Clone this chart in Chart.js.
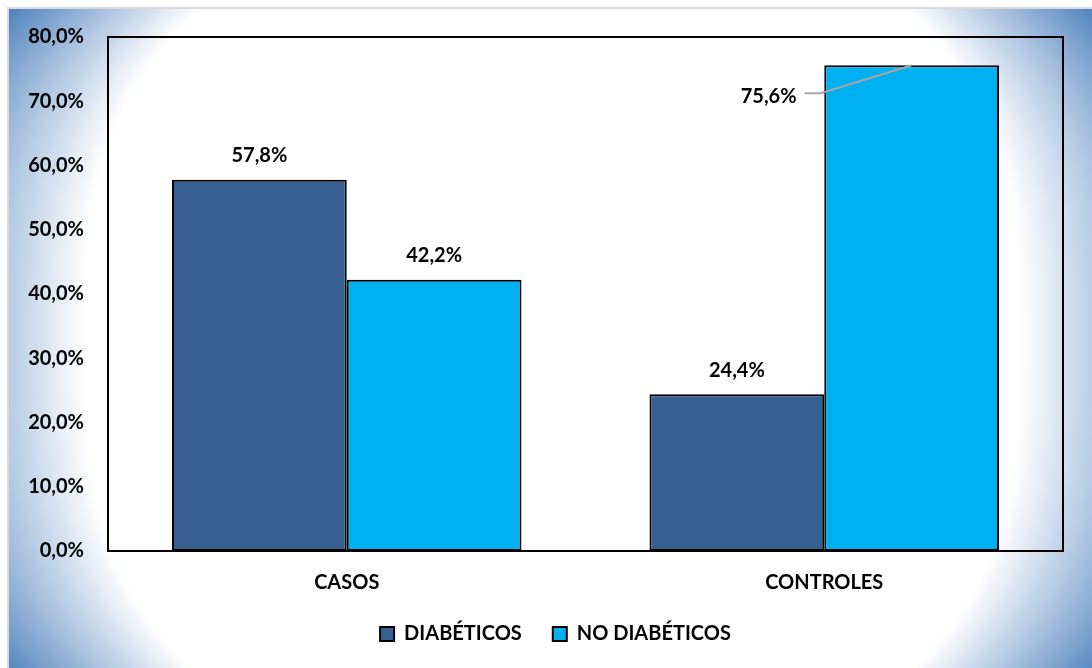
<!DOCTYPE html>
<html>
<head>
<meta charset="utf-8">
<script src="https://cdn.jsdelivr.net/npm/chart.js@4.4.0/dist/chart.umd.min.js"></script>
<style>
  html, body { margin: 0; padding: 0; background: #fff; overflow: hidden; }
  #wrap { position: relative; width: 1092px; height: 668px; }
</style>
</head>
<body>
<div id="wrap"><canvas id="chart"></canvas></div>
<script>
// data
const categories = ["CASOS", "CONTROLES"];
const seriesNames = ["DIABÉTICOS", "NO DIABÉTICOS"];
const diabeticos = [57.8, 24.4];
const noDiabeticos = [42.2, 75.6];
const yTicks = [0, 10, 20, 30, 40, 50, 60, 70, 80];

const FONT = "Lato, 'Open Sans', sans-serif";
const FONT_SIZE = 20;
const fmt = v => v.toFixed(1).replace(".", ",") + "%";

// the 75,6% label sits off to the left of its bar with a leader line
const labelShift = { "1-1": { dx: -143, dy: 31 } };

// blue-to-white panel behind everything, cached once
let bgCache = null;
function buildBackground(w, h) {
  const c = document.createElement("canvas");
  c.width = w; c.height = h;
  const g = c.getContext("2d");
  g.fillStyle = "#fff";
  g.fillRect(0, 0, w, h);
  g.fillStyle = "#d9d9d9";
  g.fillRect(7, 7, w - 7, h - 7);
  const x0 = 9, y0 = 9, x1 = 1095, y1 = 676;
  const cx = (x0 + x1) / 2, cy = (y0 + y1) / 2;
  const hw = (x1 - x0) / 2, hh = (y1 - y0) / 2;
  const img = g.getImageData(x0, y0, w - x0, h - y0);
  const d = img.data;
  const blue = [79, 129, 189];
  for (let y = y0; y < h; y++) {
    const ny = Math.abs(y - cy) / hh;
    for (let x = x0; x < w; x++) {
      const nx = Math.abs(x - cx) / hw;
      let t = 2.86 * (nx - 0.86) + 0.6 * ny * ny * ny;
      t = Math.max(0, Math.min(1, t));
      const i = ((y - y0) * (w - x0) + (x - x0)) * 4;
      d[i] = 255 + (blue[0] - 255) * t;
      d[i + 1] = 255 + (blue[1] - 255) * t;
      d[i + 2] = 255 + (blue[2] - 255) * t;
      d[i + 3] = 255;
    }
  }
  g.putImageData(img, x0, y0);
  return c;
}

const backgroundPlugin = {
  id: "panelBackground",
  beforeDraw(chart) {
    if (!bgCache) bgCache = buildBackground(chart.width, chart.height);
    chart.ctx.drawImage(bgCache, 0, 0);
  }
};

// legend sits a little right of the full-width centre
const legendNudge = {
  id: "legendNudge",
  afterLayout(chart) {
    if (!chart.legend) return;
    chart.legend.left += 24;
    chart.legend.right += 24;
  }
};

const plotBoxPlugin = {
  id: "plotBox",
  beforeDatasetsDraw(chart) {
    const { ctx, chartArea: a } = chart;
    ctx.save();
    ctx.strokeStyle = "#000";
    ctx.lineWidth = 2;
    ctx.strokeRect(a.left, a.top, a.right - a.left, a.bottom - a.top);
    ctx.restore();
  }
};

const valueLabelPlugin = {
  id: "valueLabels",
  afterDatasetsDraw(chart) {
    const ctx = chart.ctx;
    ctx.save();
    ctx.font = "bold " + FONT_SIZE + "px " + FONT;
    ctx.fillStyle = "#000";
    ctx.textAlign = "center";
    ctx.textBaseline = "middle";
    chart.data.datasets.forEach((ds, di) => {
      chart.getDatasetMeta(di).data.forEach((bar, i) => {
        const text = fmt(ds.data[i]);
        const shift = labelShift[di + "-" + i];
        if (shift) {
          const lx = bar.x + shift.dx, ly = bar.y + shift.dy;
          const half = ctx.measureText(text).width / 2;
          ctx.fillText(text, lx, ly);
          ctx.beginPath();
          ctx.strokeStyle = "#a6a6a6";
          ctx.lineWidth = 2;
          ctx.moveTo(lx + half + 8, ly - 3);
          ctx.lineTo(lx + half + 24, ly - 3);
          ctx.lineTo(bar.x, bar.y);
          ctx.stroke();
        } else {
          ctx.fillText(text, bar.x, bar.y - 24);
        }
      });
    });
    ctx.restore();
  }
};

new Chart(document.getElementById("chart"), {
  type: "bar",
  data: {
    labels: categories,
    datasets: [
      {
        label: seriesNames[0],
        data: diabeticos,
        backgroundColor: "#376092",
        borderColor: "#000",
        borderWidth: 2,
        borderSkipped: false
      },
      {
        label: seriesNames[1],
        data: noDiabeticos,
        backgroundColor: "#00b0f0",
        borderColor: "#000",
        borderWidth: 2,
        borderSkipped: false
      }
    ]
  },
  options: {
    responsive: true,
    maintainAspectRatio: false,
    animation: false,
    categoryPercentage: 0.732,
    barPercentage: 1.0,
    layout: { padding: { left: 0, right: 29, top: 37, bottom: 14 } },
    scales: {
      x: {
        grid: { display: false, drawTicks: false },
        border: { display: false },
        ticks: { color: "#000", padding: 20, font: { family: FONT, size: FONT_SIZE, weight: "bold" } },
        afterFit: s => { s.height = 42; }
      },
      y: {
        min: yTicks[0],
        max: yTicks[yTicks.length - 1],
        grid: { display: false, drawTicks: false },
        border: { display: false },
        afterBuildTicks: s => { s.ticks = yTicks.map(v => ({ value: v })); },
        ticks: {
          color: "#000",
          padding: 24,
          font: { family: FONT, size: FONT_SIZE, weight: "bold" },
          callback: v => fmt(v)
        },
        afterFit: s => { s.width = 108; }
      }
    },
    plugins: {
      legend: {
        position: "bottom",
        labels: {
          color: "#000",
          boxWidth: 14,
          boxHeight: 14,
          padding: 31,
          font: { family: FONT, size: FONT_SIZE, weight: "bold" }
        }
      },
      tooltip: { enabled: false }
    }
  },
  plugins: [backgroundPlugin, legendNudge, plotBoxPlugin, valueLabelPlugin]
});
</script>
</body>
</html>
